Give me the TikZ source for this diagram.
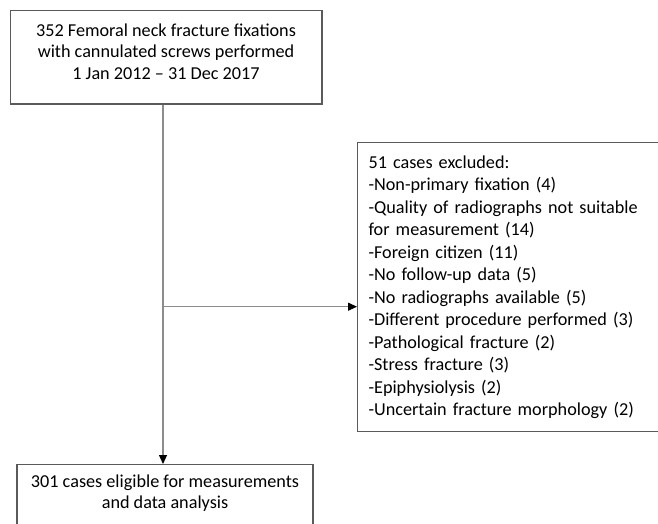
\documentclass[tikz,border=0pt]{standalone}
\usepackage{fontspec}
\setmainfont{Carlito}
\usetikzlibrary{arrows.meta}
\definecolor{boxline}{HTML}{5A5A5A}
\definecolor{conline}{HTML}{8C8C8C}
\begin{document}
\begin{tikzpicture}[x=1pt,y=-1pt,
  boxshape/.style={draw=boxline, line width=1.1pt, inner sep=0pt},
  txt/.style={inner sep=0pt, align=center},
  conn/.style={draw=conline, line width=1.1pt},
  arr/.style={conn, -{Triangle[length=9pt,width=8pt,fill=black,color=black]}}]
\useasboundingbox (0,0) rectangle (658,524);
\clip (0,0) rectangle (658,524);
\fill[white] (0,0) rectangle (658,524);
% top box
\node[boxshape, minimum width=311.5pt, minimum height=93.5pt] (top) at (166.25,57.25) {};
\node[txt, font=\fontsize{18.2}{21.5}\selectfont] (toptxt) at (166,51.7) {352 Femoral neck fracture fixations\\with cannulated screws performed\\1 Jan 2012 -- 31 Dec 2017};
% exclusion box
\node[boxshape, anchor=north west, minimum width=330pt, minimum height=289pt,
  text width=308pt, inner xsep=11pt, align=left, font=\fontsize{18.2}{22.5}\selectfont] (excl) at (357,142)
  {51 cases excluded:\\
   -Non-primary fixation (4)\\
   -Quality of radiographs not suitable\\
   for measurement (14)\\
   -Foreign citizen (11)\\
   -No follow-up data (5)\\
   -No radiographs available (5)\\
   -Different procedure performed (3)\\
   -Pathological fracture (2)\\
   -Stress fracture (3)\\
   -Epiphysiolysis (2)\\
   -Uncertain fracture morphology (2)};
% bottom box
\node[boxshape, anchor=north, minimum width=296pt, minimum height=90pt] (bot) at (165,464) {};
\node[txt, font=\fontsize{18.2}{20.8}\selectfont] (bottxt) at (165,493) {301 cases eligible for measurements\\and data analysis};
% connectors
\coordinate (j) at (163,306.7);
\draw[conn] (top.south -| j) -- (j);
\draw[arr] (j) -- (bot.north -| j);
\draw[arr] (j) -- (excl.west |- j);
\end{tikzpicture}
\end{document}
